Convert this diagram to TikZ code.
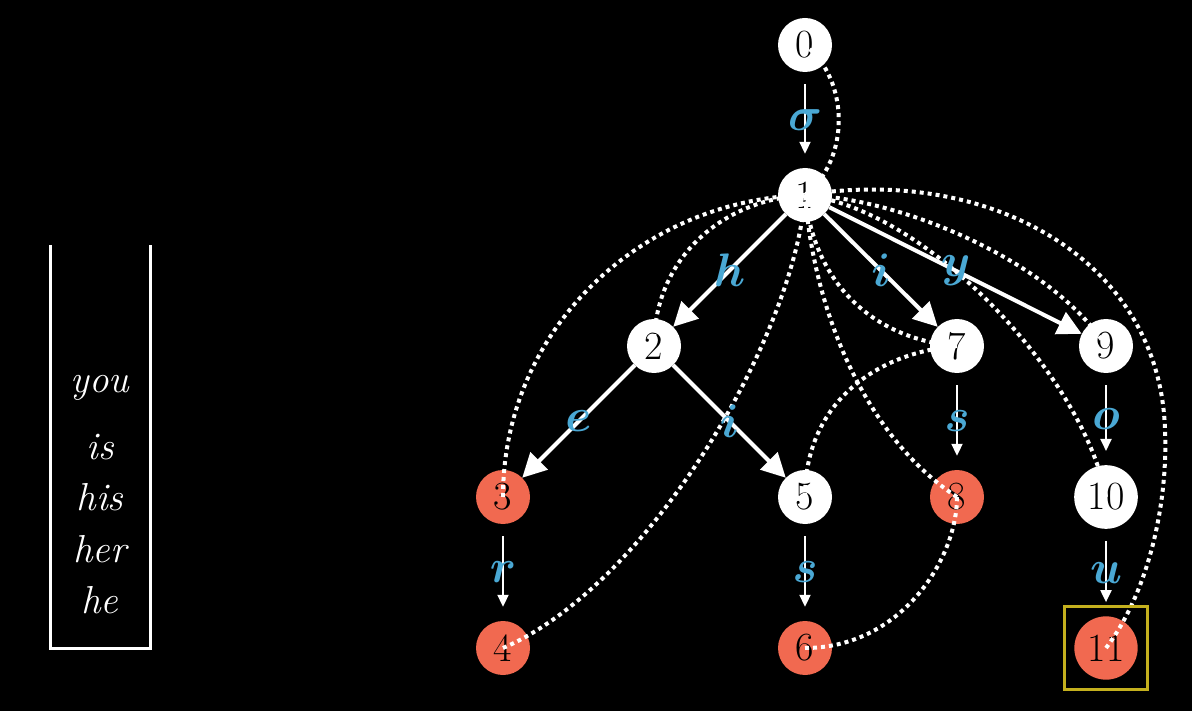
\RequirePackage{fix-cm}
\documentclass[tikz,border=0pt]{standalone}
\usepackage{amsmath,bm}
\usetikzlibrary{arrows.meta}
\definecolor{nodered}{RGB}{241,105,80}
\definecolor{lblue}{RGB}{74,168,212}
\definecolor{hlyellow}{RGB}{196,176,30}
\tikzset{
  wn/.style={circle, fill=white, text=black, minimum size=54pt, inner sep=6.5pt,
    font=\fontsize{40}{40}\selectfont},
  rn/.style={wn, fill=nodered},
  lbl/.style={text=lblue, inner sep=0pt, font=\fontsize{47}{47}\selectfont},
  tarr/.style={draw=white, line width=4pt, -{Triangle[length=24pt,width=24pt]}},
  varr/.style={draw=white, line width=2pt, -{Triangle[length=12pt,width=11pt]},
    shorten <=12pt, shorten >=14pt},
  flink/.style={draw=white, line width=4pt, dash pattern=on 4pt off 4pt},
  word/.style={text=white, font=\fontsize{39}{39}\itshape\selectfont},
}
\begin{document}
\begin{tikzpicture}[x=1pt,y=-1pt]
\fill[black] (0,0) rectangle (1192,711);
\useasboundingbox (0,0) rectangle (1192,711);

% left panel
\draw[white, line width=3pt] (50,245) -- (50,648) -- (150,648) -- (150,245);
\node[word] (wyou) at (100,388) {you};
\node[word] (wis) at (100,447) {is};
\node[word] (whis) at (100,497) {his};
\node[word] (wher) at (100,549) {her};
\node[word] (whe) at (100,600) {he};

% nodes
\node[wn] (n0) at (805,45) {0};
\node[wn] (n1) at (805,195) {1};
\node[wn] (n2) at (654,346) {2};
\node[wn] (n7) at (957,346) {7};
\node[wn] (n9) at (1106,346) {9};
\node[rn] (n3) at (503,497) {3};
\node[wn] (n5) at (805,497) {5};
\node[rn] (n8) at (957,497) {8};
\node[wn] (n10) at (1106,497) {10};
\node[rn] (n4) at (503,648) {4};
\node[rn] (n6) at (805,648) {6};
\node[rn] (n11) at (1106,648) {11};

% tree edges
\draw[tarr] (n1) -- (n2) coordinate[midway] (m12);
\draw[tarr] (n1) -- (n7) coordinate[midway] (m17);
\draw[tarr] (n1) -- (n9) coordinate[midway] (m19);
\draw[tarr] (n2) -- (n3) coordinate[midway] (m23);
\draw[tarr] (n2) -- (n5) coordinate[midway] (m25);
\draw[varr] (n0) -- (n1) coordinate[midway] (m01);
\draw[varr] (n3) -- (n4) coordinate[midway] (m34);
\draw[varr] (n5) -- (n6) coordinate[midway] (m56);
\draw[varr] (n7) -- (n8) coordinate[midway] (m78);
\draw[varr] (n9) -- (n10) coordinate[midway] (m910);
\draw[varr] (n10) -- (n11) coordinate[midway] (m1011);

% failure links
\draw[flink] (n1.center) .. controls (850,160) and (850,80) .. (n0.center);
\draw[flink] (n2.center) .. controls (654,260) and (720,200) .. (n1.center);
\draw[flink] (n3.center) .. controls (503,330) and (640,200) .. (n1.center);
\draw[flink] (n4.center) .. controls (650,585) and (795,335) .. (n1.center);
\draw[flink] (n5.center) .. controls (805,400) and (880,352) .. (n7.center);
\draw[flink] (n6.center) .. controls (900,648) and (957,560) .. (n8.center);
\draw[flink] (n7.center) .. controls (880,340) and (815,290) .. (n1.center);
\draw[flink] (n8.center) .. controls (870,440) and (815,320) .. (n1.center);
\draw[flink] (n9.center) .. controls (1050,260) and (900,198) .. (n1.center);
\draw[flink] (n10.center) .. controls (1085,380) and (930,210) .. (n1.center);
\coordinate (k11) at (1165,430);
\draw[flink] (n11.center) .. controls (1150,590) and (1168,500) .. (k11)
  .. controls (1160,260) and (990,165) .. (n1.center);

% edge labels
\node[lbl] at (m01) {$\bm{\sigma}$};
\node[lbl] at (m12) {$\bm{h}$};
\node[lbl] at (m17) {$\bm{i}$};
\node[lbl] at (m19) {$\bm{y}$};
\node[lbl] at (m23) {$\bm{e}$};
\node[lbl] at (m25) {$\bm{i}$};
\node[lbl] at (m34) {$\bm{r}$};
\node[lbl] at (m56) {$\bm{s}$};
\node[lbl] at (m78) {$\bm{s}$};
\node[lbl] at (m910) {$\bm{o}$};
\node[lbl] at (m1011) {$\bm{u}$};

% highlight
\node[draw=hlyellow, line width=3.5pt, rectangle, minimum size=83pt, inner sep=0pt] (hl) at (n11) {};
\end{tikzpicture}
\end{document}
